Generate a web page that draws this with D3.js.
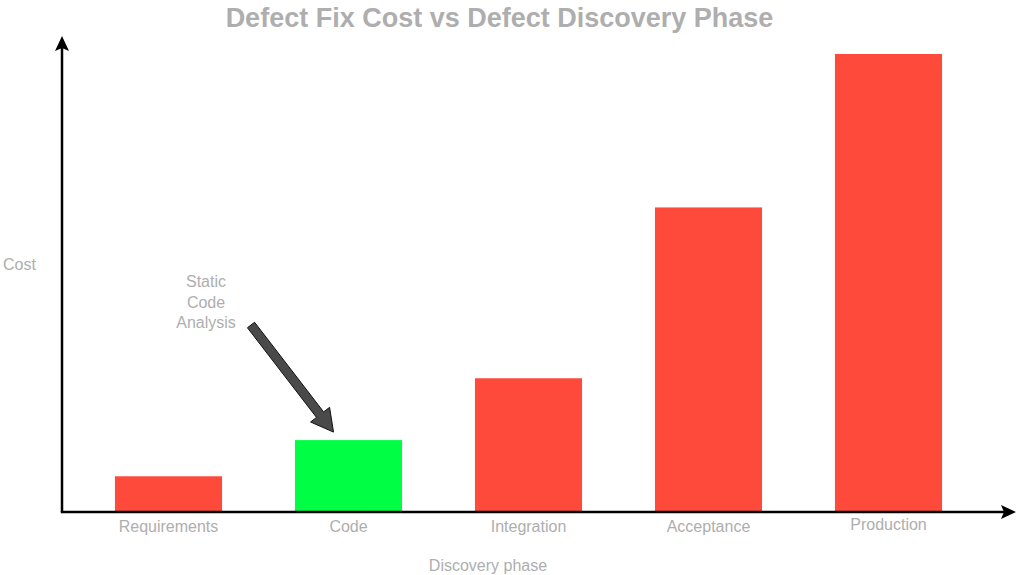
<!DOCTYPE html>
<html><head><meta charset="utf-8">
<script src="https://cdn.jsdelivr.net/npm/d3@7"></script>
<style>body{margin:0;background:#fff}svg{display:block}text{font-family:"Liberation Sans",Arial,sans-serif}</style>
</head><body><svg id="c" width="1024" height="575"></svg>
<script>
const phases = ["Requirements","Code","Integration","Acceptance","Production"];
const costs = [7.8, 15.7, 29.2, 66.5, 100];
const barColors = ["#fe4a3a","#00ff44","#fe4a3a","#fe4a3a","#fe4a3a"];
const labelDy = [0,0,0,0,-2];
const annotationLines = ["Static","Code","Analysis"];

const svg = d3.select("#c");
const x = d3.scaleBand().domain(phases).range([78.5, 978.5]).paddingInner(0.405).paddingOuter(0.2025);
const y = d3.scaleLinear().domain([0,100]).range([512, 54]);

svg.append("text").attr("x",499.5).attr("y",27).attr("text-anchor","middle")
  .attr("font-size",27).attr("font-weight","bold").attr("fill","#aeaeae")
  .text("Defect Fix Cost vs Defect Discovery Phase");

svg.selectAll("rect.bar").data(phases).join("rect").attr("class","bar")
  .attr("x",d=>x(d)).attr("width",x.bandwidth())
  .attr("y",(d,i)=>y(costs[i])).attr("height",(d,i)=>y(0)-y(costs[i]))
  .attr("fill",(d,i)=>barColors[i]);

svg.selectAll("text.lab").data(phases).join("text").attr("class","lab")
  .attr("x",d=>x(d)+x.bandwidth()/2).attr("y",(d,i)=>532+labelDy[i])
  .attr("text-anchor","middle").attr("font-size",16).attr("fill","#aeaeae").text(d=>d);

// axes
svg.append("line").attr("x1",62).attr("y1",512).attr("x2",62).attr("y2",48).attr("stroke","#000").attr("stroke-width",2.5);
svg.append("path").attr("d","M62,36 L69,51 L62,48 L55,51 Z").attr("fill","#000");
svg.append("line").attr("x1",60.8).attr("y1",512).attr("x2",1004).attr("y2",512).attr("stroke","#000").attr("stroke-width",2.5);
svg.append("path").attr("d","M1016,512 L1001,519 L1004,512 L1001,505 Z").attr("fill","#000");

svg.append("text").attr("x",3).attr("y",270).attr("font-size",16).attr("fill","#aeaeae").text("Cost");
svg.append("text").attr("x",488).attr("y",571).attr("text-anchor","middle").attr("font-size",16).attr("fill","#aeaeae").text("Discovery phase");

// annotation
svg.selectAll("text.ann").data(annotationLines).join("text").attr("class","ann")
  .attr("x",206).attr("y",(d,i)=>287+i*20.5).attr("text-anchor","middle")
  .attr("font-size",16).attr("fill","#aeaeae").text(d=>d);

const codeX = x("Code")+x.bandwidth()/2;
const tip = [codeX-15, y(costs[1])-8];
const tail = [251, 325];
const dx = tip[0]-tail[0], dy = tip[1]-tail[1], L = Math.hypot(dx,dy);
const ux = dx/L, uy = dy/L, px = -uy, py = ux;
const sw = 4.5, hw = 12, hl = 22;
const bx = tip[0]-ux*hl, by = tip[1]-uy*hl;
const pts = [
  [tail[0]+px*sw, tail[1]+py*sw],[bx+px*sw, by+py*sw],[bx+px*hw, by+py*hw],
  tip,[bx-px*hw, by-py*hw],[bx-px*sw, by-py*sw],[tail[0]-px*sw, tail[1]-py*sw]];
svg.append("path").attr("d","M"+pts.map(p=>p.join(",")).join("L")+"Z")
  .attr("fill","#4a4a4a").attr("stroke","#111").attr("stroke-width",1);
</script></body></html>
